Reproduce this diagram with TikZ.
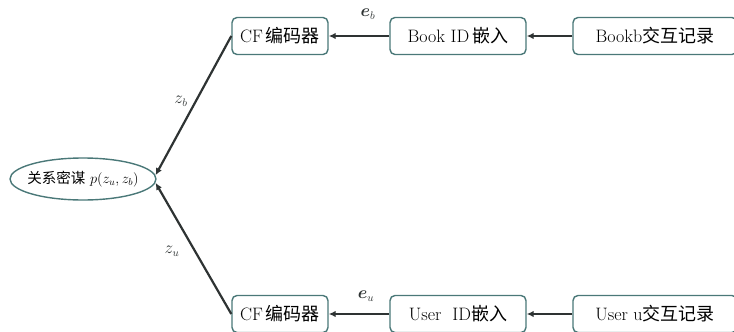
\documentclass[tikz,border=0pt]{standalone}
\usepackage{fontspec}
\usepackage{bm}
\newfontfamily\cjk{Noto Sans CJK SC}
\usetikzlibrary{shapes.geometric,arrows.meta}
\definecolor{boxline}{HTML}{4A7878}
\definecolor{conn}{HTML}{2E3333}
\begin{document}
\begin{tikzpicture}[x=1pt,y=-1pt,
  box/.style={draw=boxline,line width=1.4pt,rounded corners=5pt,minimum height=37pt,inner sep=0pt,fill=white,font=\fontsize{18}{20}\selectfont},
  ellnode/.style={ellipse,draw=boxline,line width=1.4pt,minimum width=146pt,minimum height=42pt,inner sep=0pt,font=\fontsize{14.5}{17}\selectfont},
  conline/.style={draw=conn,line width=2.2pt,-{Latex[length=7pt,width=6.5pt]}},
  lab/.style={font=\fontsize{16}{18}\selectfont,text=conn}]
\useasboundingbox (0,0) rectangle (734,332);
\clip (0,0) rectangle (734,332);
\node[ellnode] (ell) at (83,179) {\makebox[0pt]{{\cjk 关系密谋} $p(z_u,z_b)$}};
\node[box,minimum width=96pt] (cf1) at (280,36) {CF\,{\cjk 编码器}};
\node[box,minimum width=136pt] (bid) at (458,36) {Book ID\,{\cjk 嵌入}};
\node[box,minimum width=164pt] (bb) at (655,36) {Bookb{\cjk 交互记录}};
\node[box,minimum width=96pt] (cf2) at (280,314) {CF\,{\cjk 编码器}};
\node[box,minimum width=136pt] (uid) at (458,314) {User\ \ ID{\cjk 嵌入}};
\node[box,minimum width=164pt] (uu) at (655,314) {User u{\cjk 交互记录}};
\draw[conline] (bb.west) -- (bid.east);
\draw[conline] (bid.west) -- (cf1.east);
\draw[conline] (uu.west) -- (uid.east);
\draw[conline] (uid.west) -- (cf2.east);
\draw[conline] (cf1.west) -- (ell.3);
\draw[conline] (cf2.west) -- (ell.-3);
\node[lab] (eb) at (368,14) {$\bm{e}_b$};
\node[lab] (eu) at (366,296) {$\bm{e}_u$};
\node[lab] (zb) at (181,101) {$z_b$};
\node[lab] (zu) at (172,251) {$z_u$};
\end{tikzpicture}
\end{document}
